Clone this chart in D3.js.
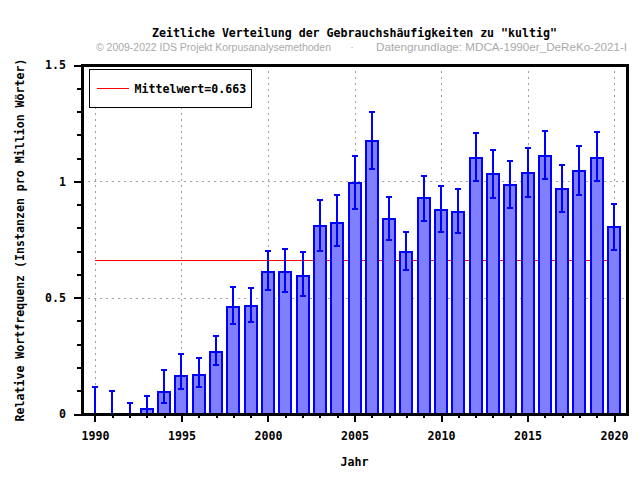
<!DOCTYPE html>
<html>
<head>
<meta charset="utf-8">
<script src="https://cdn.jsdelivr.net/npm/d3@7/dist/d3.min.js"></script>
<style>
  body { margin: 0; background: #fff; }
  text { font-family: "DejaVu Sans Mono", monospace; font-weight: bold; font-size: 11.6px; }
  line, rect { shape-rendering: crispEdges; }
</style>
</head>
<body>
<svg width="640" height="480"></svg>
<script>
var years = [1990, 1991, 1992, 1993, 1994, 1995, 1996, 1997, 1998, 1999,
  2000, 2001, 2002, 2003, 2004, 2005, 2006, 2007, 2008, 2009,
  2010, 2011, 2012, 2013, 2014, 2015, 2016, 2017, 2018, 2019, 2020];
var values = [0, 0, 0, 0.02, 0.093, 0.162, 0.167, 0.266, 0.461, 0.465,
  0.612, 0.612, 0.595, 0.806, 0.823, 0.992, 1.173, 0.838, 0.698, 0.927,
  0.875, 0.867, 1.100, 1.031, 0.983, 1.035, 1.108, 0.966, 1.044, 1.100, 0.802];
var errLow = [0, 0, 0, 0, 0.046, 0.106, 0.115, 0.209, 0.386, 0.394,
  0.533, 0.524, 0.507, 0.701, 0.723, 0.883, 1.055, 0.749, 0.619, 0.831,
  0.783, 0.779, 1.000, 0.930, 0.887, 0.934, 1.008, 0.870, 0.943, 1.000, 0.705];
var errHigh = [0.115, 0.098, 0.046, 0.076, 0.188, 0.256, 0.240, 0.334, 0.547, 0.541,
  0.701, 0.711, 0.698, 0.918, 0.940, 1.108, 1.299, 0.934, 0.783, 1.025,
  0.982, 0.969, 1.207, 1.133, 1.086, 1.142, 1.215, 1.070, 1.150, 1.211, 0.904];
var mean = 0.663;
var xTicks = [1990, 1995, 2000, 2005, 2010, 2015, 2020];
var yTicks = [0, 0.5, 1, 1.5];

var svg = d3.select("svg"),
  margin = { top: 65, right: 13, bottom: 66, left: 82 },
  width = +svg.attr("width") - margin.left - margin.right,
  height = +svg.attr("height") - margin.top - margin.bottom,
  g = svg.append("g").attr("transform", "translate(" + margin.left + "," + margin.top + ")");

var x = d3.scaleLinear().domain([1989.25, 2020.75]).range([0, width]);
var y = d3.scaleLinear().domain([0, 1.5]).range([height, 0]);
var barW = Math.round((x(1991) - x(1990)) * 0.72);
var blue = "#0000ff";

// grid
g.append("g").selectAll("line").data(xTicks).enter().append("line")
  .attr("x1", function (d) { return Math.round(x(d)) + 0.5; }).attr("x2", function (d) { return Math.round(x(d)) + 0.5; })
  .attr("y1", 0).attr("y2", height)
  .attr("stroke", "#a0a0a0").attr("stroke-dasharray", "2,4");
g.append("g").selectAll("line").data([0.5, 1]).enter().append("line")
  .attr("y1", function (d) { return Math.round(y(d)) + 0.5; }).attr("y2", function (d) { return Math.round(y(d)) + 0.5; })
  .attr("x1", 0).attr("x2", width)
  .attr("stroke", "#a0a0a0").attr("stroke-dasharray", "2,4");

// mean line
g.append("line")
  .attr("x1", x(1990)).attr("x2", x(2020))
  .attr("y1", Math.round(y(mean)) + 0.5).attr("y2", Math.round(y(mean)) + 0.5)
  .attr("stroke", "#ff0000").attr("stroke-width", 1);

// bars
g.append("g").selectAll("rect").data(years).enter().append("rect")
  .attr("x", function (d) { return Math.round(x(d) - barW / 2); })
  .attr("width", barW)
  .attr("y", function (d, i) { return Math.round(y(values[i])); })
  .attr("height", function (d, i) { return Math.round(y(0)) - Math.round(y(values[i])); })
  .attr("fill", "#8080ff").attr("stroke", blue).attr("stroke-width", 2);

// error bars
var eb = g.append("g");
years.forEach(function (d, i) {
  var cx = Math.round(x(d)),
    lo = Math.round(y(errLow[i])),
    hi = Math.round(y(errHigh[i]));
  eb.append("line").attr("x1", cx).attr("x2", cx).attr("y1", lo).attr("y2", hi)
    .attr("stroke", blue).attr("stroke-width", 2);
  [lo, hi].forEach(function (v) {
    eb.append("line").attr("x1", cx - 3).attr("x2", cx + 3).attr("y1", v).attr("y2", v)
      .attr("stroke", blue).attr("stroke-width", 2);
  });
});

// axes
var xAxis = g.append("g").attr("transform", "translate(0," + height + ")")
  .call(d3.axisBottom(x).tickValues(xTicks).tickFormat(d3.format("d")).tickSize(8).tickPadding(10));
var xMinor = g.append("g").attr("transform", "translate(0," + height + ")")
  .call(d3.axisBottom(x).tickValues(years.filter(function (d) { return d % 5; })).tickSize(4).tickFormat(""));
var yAxis = g.append("g")
  .call(d3.axisLeft(y).tickValues(yTicks).tickFormat(d3.format("")).tickSize(8).tickPadding(8));
var yMinor = g.append("g")
  .call(d3.axisLeft(y).tickValues([0.1, 0.2, 0.3, 0.4, 0.6, 0.7, 0.8, 0.9, 1.1, 1.2, 1.3, 1.4]).tickSize(5).tickFormat(""));
[xAxis, xMinor, yAxis, yMinor].forEach(function (a) {
  a.select(".domain").remove();
  a.selectAll(".tick line").attr("stroke", "#000").attr("stroke-width", 2);
  a.selectAll(".tick text").attr("fill", "#000").style("font-size", "11.6px")
    .style("font-family", "DejaVu Sans Mono").style("font-weight", "bold");
});

// frame
g.append("rect").attr("x", 0).attr("y", 0).attr("width", width).attr("height", height)
  .attr("fill", "none").attr("stroke", "#000").attr("stroke-width", 3);

// legend
var leg = g.append("g").attr("transform", "translate(7.5,4.5)");
leg.append("rect").attr("width", 162).attr("height", 38)
  .attr("fill", "#fff").attr("stroke", "#000").attr("stroke-width", 1);
leg.append("line").attr("x1", 7).attr("x2", 39).attr("y1", 18.5).attr("y2", 18.5)
  .attr("stroke", "#ff0000");
leg.append("text").attr("x", 45).attr("y", 23).text("Mittelwert=0.663");

// titles
svg.append("text").attr("x", 354.5).attr("y", 37).attr("text-anchor", "middle")
  .text("Zeitliche Verteilung der Gebrauchshäufigkeiten zu \"kultig\"");
function subText(xp, anchor, len, s) {
  var t = svg.append("text").attr("x", xp).attr("y", 50.5).attr("text-anchor", anchor)
    .attr("fill", "#aaaaaa")
    .style("font-family", "Liberation Sans, Arial, sans-serif").style("font-weight", "normal").style("font-size", "10.5px")
    .text(s);
  if (len) t.attr("textLength", len).attr("lengthAdjust", "spacingAndGlyphs");
}
subText(96, "start", 235, "© 2009-2022 IDS Projekt Korpusanalysemethoden");
subText(352, "middle", null, "·");
subText(376, "start", 251, "Datengrundlage: MDCA-1990er_DeReKo-2021-I");

svg.append("text").attr("x", 354.5).attr("y", 466).attr("text-anchor", "middle").text("Jahr");
svg.append("text").attr("transform", "translate(24,240) rotate(-90)").attr("text-anchor", "middle")
  .text("Relative Wortfrequenz (Instanzen pro Million Wörter)");
</script>
</body>
</html>
